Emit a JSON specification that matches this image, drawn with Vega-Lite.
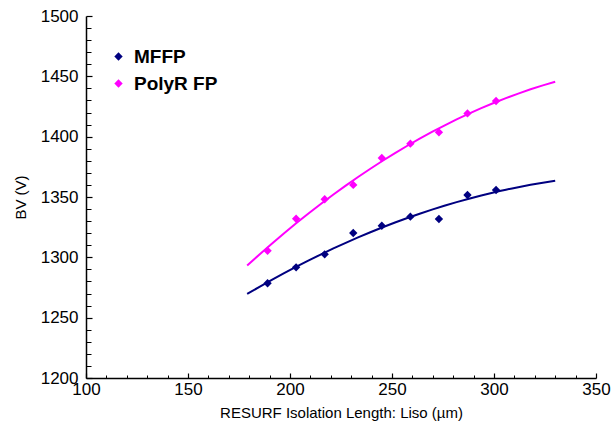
{
  "$schema": "https://vega.github.io/schema/vega-lite/v6.json",
  "autosize": "none",
  "width": 510,
  "height": 362,
  "padding": {"left": 86, "top": 16, "right": 17, "bottom": 63},
  "background": "white",
  "config": {
    "view": {"stroke": null},
    "font": "Liberation Sans",
    "axis": {"grid": false, "domainColor": "black", "tickColor": "black", "labelColor": "black", "titleColor": "black", "labelFont": "Liberation Sans", "titleFont": "Liberation Sans", "labelFontSize": 17, "titleFontSize": 15, "titleFontWeight": "normal"}
  },
  "data": {
    "values": [
      {"x": 189, "y": 1278.5, "series": "MFFP"},
      {"x": 203, "y": 1291.7, "series": "MFFP"},
      {"x": 217, "y": 1302.5, "series": "MFFP"},
      {"x": 231, "y": 1320.2, "series": "MFFP"},
      {"x": 245, "y": 1326.2, "series": "MFFP"},
      {"x": 259, "y": 1333.7, "series": "MFFP"},
      {"x": 273, "y": 1331.8, "series": "MFFP"},
      {"x": 287, "y": 1351.7, "series": "MFFP"},
      {"x": 301, "y": 1355.8, "series": "MFFP"},
      {"x": 189, "y": 1305.5, "series": "PolyR FP"},
      {"x": 203, "y": 1332, "series": "PolyR FP"},
      {"x": 217, "y": 1348.1, "series": "PolyR FP"},
      {"x": 231, "y": 1360, "series": "PolyR FP"},
      {"x": 245, "y": 1382.3, "series": "PolyR FP"},
      {"x": 259, "y": 1394.2, "series": "PolyR FP"},
      {"x": 273, "y": 1403.6, "series": "PolyR FP"},
      {"x": 287, "y": 1419.3, "series": "PolyR FP"},
      {"x": 301, "y": 1429.6, "series": "PolyR FP"}
    ]
  },
  "resolve": {"axis": {"x": "independent", "y": "independent"}},
  "layer": [
    {
      "mark": {"type": "point", "shape": "diamond", "filled": true, "size": 70, "opacity": 1},
      "encoding": {
        "x": {"field": "x", "type": "quantitative", "scale": {"domain": [100, 350], "nice": false, "zero": false},
              "axis": {"orient": "bottom", "title": "RESURF Isolation Length: Liso (µm)", "format": "d", "labelFontSize": 17, "values": [100, 150, 200, 250, 300, 350], "tickSize": -5, "labelPadding": 8, "titlePadding": 8, "domainWidth": 1.5, "tickWidth": 1.2, "labelFlush": false}},
        "y": {"field": "y", "type": "quantitative", "scale": {"domain": [1200, 1500], "nice": false, "zero": false},
              "axis": {"orient": "left", "title": "BV (V)", "format": "d", "labelFontSize": 17, "values": [1200, 1250, 1300, 1350, 1400, 1450, 1500], "tickSize": -6, "labelPadding": 14, "titlePadding": 12, "domainWidth": 1.5, "tickWidth": 1.2, "labelFlush": false}},
        "color": {"field": "series", "type": "nominal",
                  "scale": {"domain": ["MFFP", "PolyR FP"], "range": ["#000080", "#FF00FF"]},
                  "legend": {"title": null, "orient": "none", "legendX": 23, "legendY": 31, "symbolType": "diamond", "symbolSize": 70, "labelFontSize": 19, "labelFontWeight": "bold", "labelFont": "Liberation Sans", "labelColor": "black", "rowPadding": 7, "labelOffset": 6, "symbolStrokeWidth": 0}}
      }
    },
    {
      "transform": [{"regression": "y", "on": "x", "groupby": ["series"], "method": "poly", "order": 2, "extent": [179, 330]}],
      "mark": {"type": "line", "strokeWidth": 2},
      "encoding": {
        "x": {"field": "x", "type": "quantitative", "scale": {"domain": [100, 350], "nice": false, "zero": false},
              "axis": {"orient": "bottom", "title": null, "labels": false, "domain": false, "values": [110,120,130,140,160,170,180,190,210,220,230,240,260,270,280,290,310,320,330,340], "tickSize": -3, "tickWidth": 1}},
        "y": {"field": "y", "type": "quantitative", "scale": {"domain": [1200, 1500], "nice": false, "zero": false},
              "axis": {"orient": "left", "title": null, "labels": false, "domain": false, "values": [1210,1220,1230,1240,1260,1270,1280,1290,1310,1320,1330,1340,1360,1370,1380,1390,1410,1420,1430,1440,1460,1470,1480,1490], "tickSize": -5, "tickWidth": 1}},
        "color": {"field": "series", "type": "nominal", "scale": {"domain": ["MFFP", "PolyR FP"], "range": ["#000080", "#FF00FF"]}, "legend": null}
      }
    }
  ]
}
